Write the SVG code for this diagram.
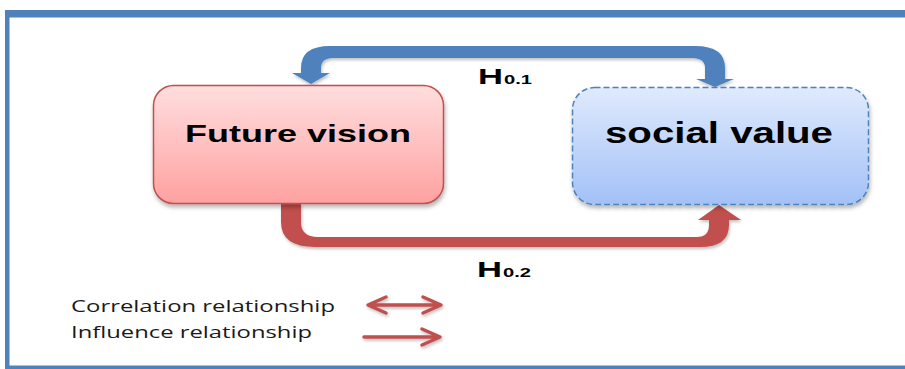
<svg xmlns="http://www.w3.org/2000/svg" width="905" height="369" viewBox="0 0 905 369">
<style>
.frame{fill:#4f81bd}
.title{font-family:"Liberation Sans",Arial,sans-serif;font-weight:bold;fill:#000}
.hl{font-family:"Liberation Sans",Arial,sans-serif;font-weight:bold;fill:#000}
.legend{font-family:"Open Sans","Liberation Sans",sans-serif;font-size:17px;fill:#1a1a1a}
.leg{stroke:#c0504d;stroke-width:3.5;fill:none;stroke-linecap:round;stroke-linejoin:round}
</style>
<defs>
<linearGradient id="gRed" x1="0" y1="0" x2="0" y2="1">
<stop offset="0" stop-color="#ffdede"/>
<stop offset="1" stop-color="#ffa1a1"/>
</linearGradient>
<linearGradient id="gBlue" x1="0" y1="0" x2="0" y2="1">
<stop offset="0" stop-color="#dfeafd"/>
<stop offset="1" stop-color="#a3c1f7"/>
</linearGradient>
<filter id="sh" x="-10%" y="-10%" width="125%" height="130%">
<feDropShadow dx="1" dy="3" stdDeviation="2" flood-color="#000" flood-opacity="0.3"/>
</filter>
<filter id="sh2" x="-10%" y="-50%" width="125%" height="250%">
<feDropShadow dx="1" dy="2" stdDeviation="1.5" flood-color="#000" flood-opacity="0.25"/>
</filter>
</defs>
<rect x="0" y="0" width="905" height="369" fill="#fff"/>
<g id="frame">
<rect class="frame" x="5" y="10" width="900" height="7.5"/>
<rect class="frame" x="5" y="10" width="4.5" height="359"/>
<rect class="frame" x="5" y="365.5" width="900" height="4"/>
</g>
<g id="connectors">
<path id="h01" filter="url(#sh2)" fill="#4f81bd" d="M 301 73 L 301 68 Q 301 46 330 46 L 695 46 Q 725 46 725 68 L 725 79 L 734 79 L 715 87 L 696 79 L 705 79 L 705 68 Q 705 58 692 58 L 333 58 Q 321 58 321 68 L 321 73 L 330 73 L 311 84 L 292 73 Z"/>
<path id="h02" filter="url(#sh2)" fill="#c0504d" d="M 281 204 L 301 204 L 301 222 Q 301 237 318 237 L 697 237 Q 709 237 709 225 L 709 220 L 698 220 L 719 205 L 741 220 L 729 220 L 729 225 Q 729 247 700 247 L 315 247 Q 281 247 281 222 Z"/>
</g>
<g id="node-future">
<rect x="153.5" y="85.5" width="290" height="118" rx="20" ry="20" fill="url(#gRed)" stroke="#c0504d" stroke-width="1.5" filter="url(#sh)"/>
<text class="title" x="185" y="142" font-size="24" textLength="226" lengthAdjust="spacingAndGlyphs">Future vision</text>
</g>
<g id="node-social">
<rect x="572.5" y="87.5" width="296" height="117" rx="22" ry="22" fill="url(#gBlue)" stroke="#4f81bd" stroke-width="1.5" stroke-dasharray="6 3" filter="url(#sh)"/>
<text class="title" x="605" y="143" font-size="29" textLength="228" lengthAdjust="spacingAndGlyphs">social value</text>
</g>
<g id="label-h01">
<text class="hl" x="478" y="83.5"><tspan font-size="22" textLength="25" lengthAdjust="spacingAndGlyphs">H</tspan><tspan font-size="13" dx="1" textLength="28" lengthAdjust="spacingAndGlyphs">0.1</tspan></text>
</g>
<g id="label-h02">
<text class="hl" x="477" y="277"><tspan font-size="22" textLength="25" lengthAdjust="spacingAndGlyphs">H</tspan><tspan font-size="13" dx="1" textLength="28" lengthAdjust="spacingAndGlyphs">0.2</tspan></text>
</g>
<g id="legend">
<text class="legend" x="71" y="312" textLength="264" lengthAdjust="spacingAndGlyphs">Correlation relationship</text>
<text class="legend" x="71" y="338" textLength="241" lengthAdjust="spacingAndGlyphs">Influence relationship</text>
<g filter="url(#sh2)">
<path class="leg" d="M 368 305 L 441 305 M 386 297 L 368 305 L 386 313 M 423 297 L 441 305 L 423 313"/>
<path class="leg" d="M 364 337 L 440 337 M 422 329 L 440 337 L 422 345"/>
</g>
</g>
</svg>
